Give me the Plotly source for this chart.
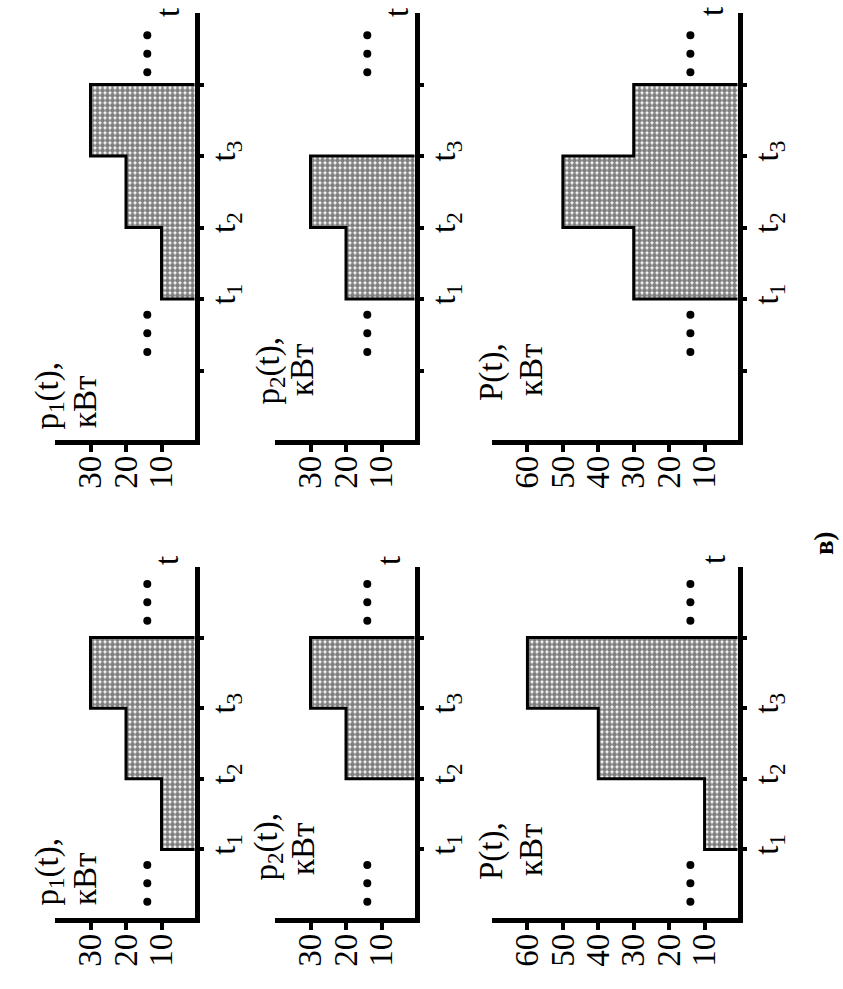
import plotly.graph_objects as go

W, H = 843, 989
SERIF = "Liberation Serif, Times New Roman, Tinos, DejaVu Serif, serif"

# ---------------- data ----------------
# lower part of the page (left half of the original, unrotated figure)
a_t_start = [1, 2, 3]
a_p1 = [10, 20, 30]
a_p2 = [0, 20, 30]
a_P = [10, 40, 60]
a_t_ticks = [1, 2, 3, 4]
a_t_ticktext = ["t<sub>1</sub>", "t<sub>2</sub>", "t<sub>3</sub>", ""]
a_t_max = 5
a_dots_t = [0.52, 4.5]

# upper part of the page (right half of the original figure)
b_t_start = [2, 3, 4]
b_p1 = [10, 20, 30]
b_p2 = [20, 30, 0]
b_P = [30, 50, 30]
b_t_ticks = [1, 2, 3, 4, 5]
b_t_ticktext = ["", "t<sub>1</sub>", "t<sub>2</sub>", "t<sub>3</sub>", ""]
b_t_max = 6
b_dots_t = [1.52, 5.43]

p_ticks = [10, 20, 30]
P_ticks = [10, 20, 30, 40, 50, 60]
p_vmax = 40
P_vmax = 70
dots_value = 14
dot_step = 0.26
titles_line1 = ["p<sub>1</sub>(t),", "p<sub>2</sub>(t),", "P(t),"]
title_line2 = "кВт"
caption = "в)"

# ---------------- geometry (pixels) ----------------
LW = 5
cols = [  # time-axis line x, value-axis far end x
    dict(x0=197, x1=55),
    dict(x0=417, x1=275),
    dict(x0=740, x1=492),
]
groups = [
    dict(y0=442, y1=13, t_start=b_t_start, series=[b_p1, b_p2, b_P],
         ticks=b_t_ticks, ticktext=b_t_ticktext, tmax=b_t_max, dots=b_dots_t,
         l1=[(49, 432), (270, 407), (491, 403)], l2=[(85, 430), (302, 398), (531, 398)],
         tlab=[(168, 13), (397, 13), (712, 12)]),
    dict(y0=920, y1=567, t_start=a_t_start, series=[a_p1, a_p2, a_P],
         ticks=a_t_ticks, ticktext=a_t_ticktext, tmax=a_t_max, dots=a_dots_t,
         l1=[(49, 908), (268, 883), (491, 882)], l2=[(85, 907), (303, 877), (531, 878)],
         tlab=[(167, 561), (389, 561), (714, 560)]),
]

fig = go.Figure()
layout = {}
annotations = []
pattern = dict(shape=".", size=5, solidity=0.72, fgcolor="black", bgcolor="white")

k = 0
for g in groups:
    for ci, col in enumerate(cols):
        k += 1
        xa = "x" if k == 1 else f"x{k}"
        ya = "y" if k == 1 else f"y{k}"
        vals = g["series"][ci]
        vmax = P_vmax if ci == 2 else p_vmax
        vticks = P_ticks if ci == 2 else p_ticks
        sx = (col["x0"] - col["x1"]) / vmax
        sy = (g["y0"] - g["y1"]) / g["tmax"]

        layout["xaxis" if k == 1 else f"xaxis{k}"] = dict(
            domain=[col["x1"] / W, (col["x0"] - LW / 2) / W],
            range=[vmax, (LW / 2) / sx], autorange=False,
            anchor=ya, side="bottom",
            showline=True, linewidth=LW, linecolor="black",
            ticks="outside", ticklen=7, tickwidth=4, tickcolor="black",
            tickmode="array", tickvals=vticks, ticktext=[str(v) for v in vticks],
            tickangle=-90, tickfont=dict(family=SERIF, size=33, color="black"),
            ticklabelstandoff=-9,
            showgrid=False, zeroline=False, fixedrange=True,
        )
        layout["yaxis" if k == 1 else f"yaxis{k}"] = dict(
            domain=[1 - (g["y0"] - LW / 2) / H, 1 - g["y1"] / H],
            range=[(LW / 2) / sy, g["tmax"]], autorange=False,
            anchor=xa, side="right",
            showline=True, linewidth=LW, linecolor="black",
            ticks="outside", ticklen=4, tickwidth=4, tickcolor="black",
            tickmode="array", tickvals=g["ticks"], ticktext=g["ticktext"],
            tickangle=-90, tickfont=dict(family=SERIF, size=33, color="black"),
            ticklabelstandoff=-8,
            showgrid=False, zeroline=False, fixedrange=True,
        )

        ts = g["t_start"]
        fig.add_trace(go.Bar(
            x=vals, y=[t + 0.5 for t in ts], width=[1] * len(ts), base=0,
            orientation="h", xaxis=xa, yaxis=ya,
            marker=dict(color="white", line=dict(width=0), pattern=pattern),
            showlegend=False, hoverinfo="skip",
        ))
        # outline of the stepped load graph
        ox, oy = [0], [ts[0]]
        for t, v in zip(ts, vals):
            ox += [v, v]
            oy += [t, t + 1]
        ox.append(0)
        oy.append(ts[-1] + 1)
        fig.add_trace(go.Scatter(
            x=ox, y=oy, mode="lines", xaxis=xa, yaxis=ya,
            line=dict(color="black", width=3), showlegend=False, hoverinfo="skip",
        ))
        # ellipses
        for c in g["dots"]:
            fig.add_trace(go.Scatter(
                x=[dots_value] * 3, y=[c - dot_step, c, c + dot_step],
                mode="markers", xaxis=xa, yaxis=ya,
                marker=dict(color="black", size=8), showlegend=False, hoverinfo="skip",
            ))
        # rounded axis ends
        fig.add_trace(go.Scatter(
            x=[0, vmax], y=[g["tmax"], 0], mode="markers", xaxis=xa, yaxis=ya,
            marker=dict(color="black", size=7), cliponaxis=False,
            showlegend=False, hoverinfo="skip",
        ))

        (lx1, ly1), (lx2, ly2), (tx, ty) = g["l1"][ci], g["l2"][ci], g["tlab"][ci]
        annotations.append(dict(
            text=titles_line1[ci], x=lx1 / W, y=1 - ly1 / H, xref="paper", yref="paper",
            xanchor="center", yanchor="bottom", textangle=-90, showarrow=False,
            font=dict(family=SERIF, size=33, color="black")))
        annotations.append(dict(
            text=title_line2, x=lx2 / W, y=1 - ly2 / H, xref="paper", yref="paper",
            xanchor="center", yanchor="bottom", textangle=-90, showarrow=False,
            font=dict(family=SERIF, size=33, color="black")))
        annotations.append(dict(
            text="t", x=tx / W, y=1 - ty / H, xref="paper", yref="paper",
            xanchor="center", yanchor="middle", textangle=-90, showarrow=False,
            font=dict(family=SERIF, size=33, color="black")))

annotations.append(dict(
    text="<b>" + caption + "</b>", x=824 / W, y=1 - 543 / H, xref="paper", yref="paper",
    xanchor="center", yanchor="middle", textangle=-90, showarrow=False,
    font=dict(family=SERIF, size=27, color="black")))

fig.update_layout(
    width=W, height=H, autosize=False,
    margin=dict(l=0, r=0, t=0, b=0, pad=0),
    paper_bgcolor="white", plot_bgcolor="white",
    barmode="overlay", annotations=annotations,
    **layout,
)
fig.write_html(
    "out.html",
    config={"displayModeBar": False},
    post_script="document.body.style.margin='0px';document.body.style.padding='0px';"
                "document.body.style.overflow='hidden';",
)
